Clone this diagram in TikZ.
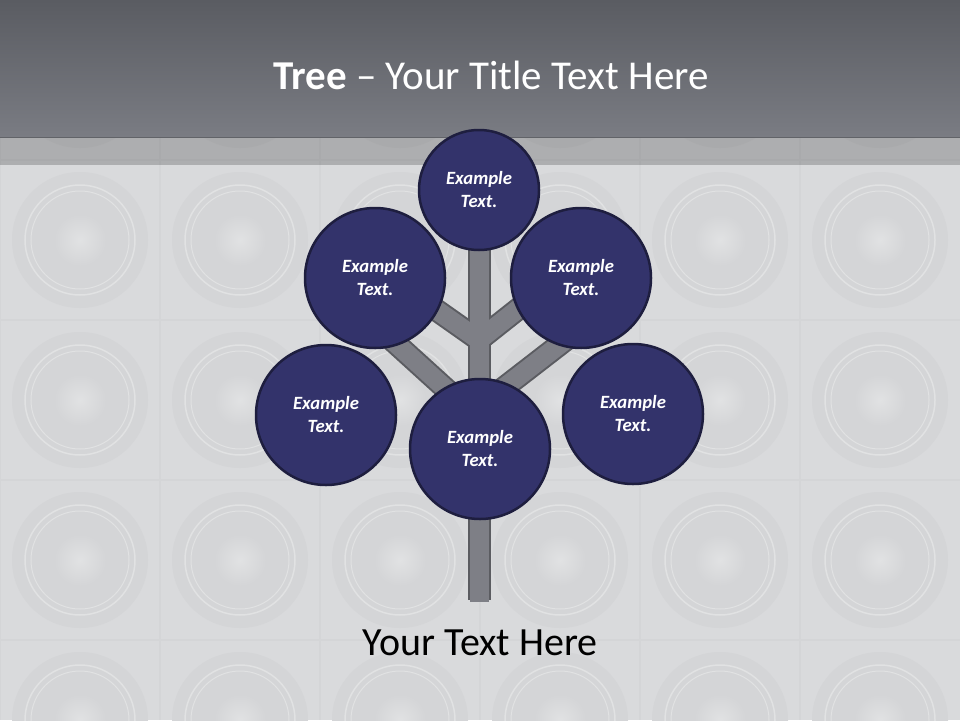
\documentclass[tikz,border=0pt]{standalone}
\usepackage{fontspec}
\setmainfont{Carlito}
\usetikzlibrary{positioning}

\definecolor{barTop}{HTML}{5A5C62}
\definecolor{barBot}{HTML}{7A7C83}
\definecolor{paper}{HTML}{D9DADC}
\definecolor{spkDisk}{HTML}{D4D5D7}
\definecolor{spkRing}{HTML}{E1E2E3}
\definecolor{leafFill}{HTML}{33336B}
\definecolor{leafLine}{HTML}{1E1E3F}
\definecolor{woodFill}{HTML}{7E7F86}
\definecolor{woodLine}{HTML}{5B5C61}

\begin{document}
\begin{tikzpicture}[x=1pt,y=-1pt,
        leaf/.style={circle, draw=leafLine, line width=2.5pt, fill=leafFill,
            text=white, align=center, inner sep=0pt,
            font=\fontsize{18.7}{23}\selectfont\bfseries\itshape},
        woodedge/.style={draw=woodLine, line width=23pt},
        woodcore/.style={draw=woodFill, line width=19pt}]

        \useasboundingbox (0,0) rectangle (960,720);

        % Background with speaker tiles
        \begin{scope}
            \clip (0,0) rectangle (960,720);
            \fill[paper] (0,0) rectangle (960,720);
            \foreach \i in {0,...,5}{
                \foreach \j in {0,...,4}{
                    \fill[spkDisk] ({80+160*\i},{80+160*\j}) circle (68);
                    \draw[spkRing, line width=1.5pt] ({80+160*\i},{80+160*\j}) circle (55);
                    \draw[spkRing, line width=1pt] ({80+160*\i},{80+160*\j}) circle (49);
                    \shade[inner color=spkRing, outer color=spkDisk] ({80+160*\i},{80+160*\j}) circle (26);
                }
                \draw[spkDisk, line width=2pt] ({160*\i},0) -- ({160*\i},720);
            }
            \foreach \j in {1,...,4}
                \draw[spkDisk, line width=2pt] (0,{160*\j}) -- (960,{160*\j});
        \end{scope}

        % Title bar
        \shade[top color=barTop, bottom color=barBot] (0,0) rectangle (960,137);
        \fill[black, opacity=0.2] (0,137) rectangle (960,165);
        \node[text=white, font=\fontsize{41}{49}\selectfont] (title) at (491,75)
            {\textbf{Tree} -- Your Title Text Here};

        % Tree wood
        \coordinate (crown) at (479,245);
        \coordinate (root) at (479,600);
        \coordinate (fork) at (479,340);
        \coordinate (ulTip) at (425,302);
        \coordinate (urTip) at (532,298);
        \coordinate (llFork) at (479,419);
        \coordinate (llTip) at (392,340);
        \coordinate (lrFork) at (479,407);
        \coordinate (lrTip) at (572,335);

        \draw[woodedge] (crown) -- (root);
        \draw[woodedge] (fork) -- (ulTip);
        \draw[woodedge] (fork) -- (urTip);
        \draw[woodedge] (llFork) -- (llTip);
        \draw[woodedge] (lrFork) -- (lrTip);

        \draw[woodcore] (crown) -- ([yshift=-2pt]root);
        \draw[woodcore] (fork) -- (ulTip);
        \draw[woodcore] (fork) -- (urTip);
        \draw[woodcore] (llFork) -- (llTip);
        \draw[woodcore] (lrFork) -- (lrTip);

        % Leaves
        \node[leaf, minimum size=120pt] (top) at (479,190) {Example\\Text.};
        \node[leaf, minimum size=140pt] (upleft) at (375,278) {Example\\Text.};
        \node[leaf, minimum size=140pt] (upright) at (581,278) {Example\\Text.};
        \node[leaf, minimum size=140pt] (left) at (326,415) {Example\\Text.};
        \node[leaf, minimum size=140pt] (right) at (633,414) {Example\\Text.};
        \node[leaf, minimum size=140pt] (centre) at (480,449) {Example\\Text.};

        % Caption
        \node[font=\fontsize{40}{48}\selectfont] (caption) at (480,643) {Your Text Here};

    \end{tikzpicture}
\end{document}
